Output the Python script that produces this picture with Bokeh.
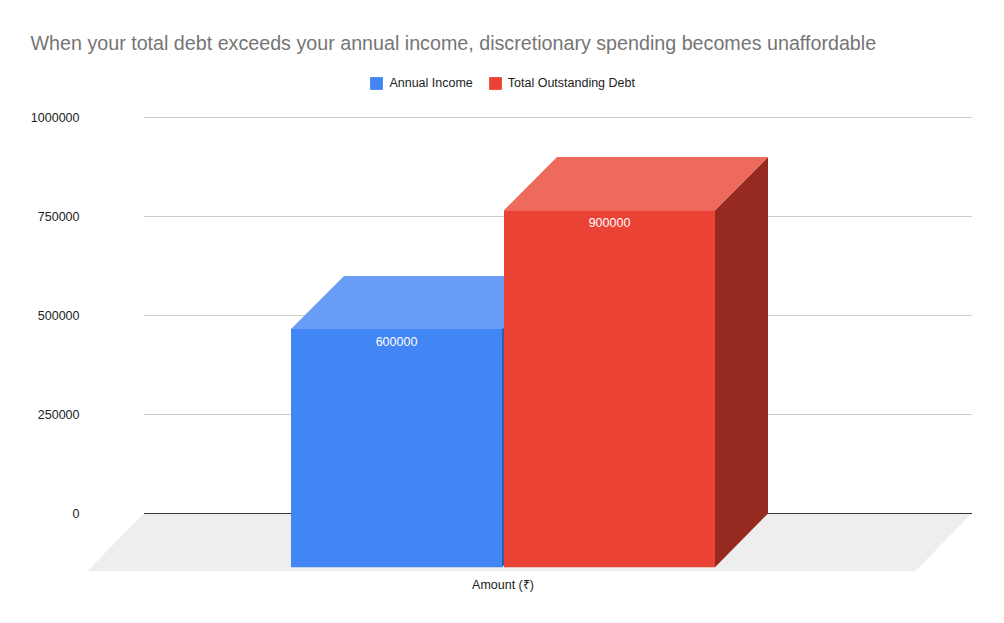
from bokeh.plotting import figure
from bokeh.models import Range1d, FixedTicker, Legend, LegendItem, ColumnDataSource
from bokeh.core.properties import value
from bokeh.embed import file_html
from bokeh.resources import INLINE

# ---- data ----
title_text = "When your total debt exceeds your annual income, discretionary spending becomes unaffordable"
categories = ["Amount (₹)"]
series_names = ["Annual Income", "Total Outstanding Debt"]
series_values = [600000, 900000]
y_ticks = [0, 250000, 500000, 750000, 1000000]

# ---- styling / layout ----
FONT = "Liberation Sans"
front_colors = ["#4285F4", "#EA4335"]
top_colors = ["#699DF6", "#EE6A5D"]
side_colors = ["#2E5DAB", "#962A20"]
BAR_W = 211
BAR_GAP = 2
BAR_X0 = 204
DX = 53
DY = 134000
BASE_DY = 135500
WALL_X0 = 57
WALL_W = 828
FLOOR_DY = 146000

p = figure(width=1000, height=620, output_backend="svg", toolbar_location=None,
           x_range=Range1d(0.5, 885.5), y_range=Range1d(-148990, 1143939),
           min_border_left=87, min_border_right=28, min_border_top=60, min_border_bottom=48,
           outline_line_color=None, background_fill_color=None, border_fill_color="white")
p.xgrid.visible = False
p.ygrid.visible = False

p.title.text = title_text
p.title.text_font = FONT
p.title.text_font_size = "19.7px"
p.title.text_font_style = "normal"
p.title.text_color = "#757575"
p.title.align = "left"
p.title.offset = -57
p.title.standoff = 13

# floor
p.patch([WALL_X0, WALL_X0 + WALL_W, WALL_X0 + WALL_W - 57, 0],
        [0, 0, -FLOOR_DY, -FLOOR_DY], fill_color="#EEEEEE", line_color=None)

# grid + baseline
p.segment([WALL_X0] * len(y_ticks), y_ticks, [WALL_X0 + WALL_W] * len(y_ticks), y_ticks,
          line_color=["#333333" if t == 0 else "#CCCCCC" for t in y_ticks], line_width=1)

# bars
front_renderers = []
label_x, label_y = [], []
for i, v in enumerate(series_values):
    x0 = BAR_X0 + i * (BAR_W + BAR_GAP)
    x1 = x0 + BAR_W
    yb = -BASE_DY
    yt = v - DY
    p.patch([x1, x1 + DX, x1 + DX, x1], [yb, 0, v, yt], fill_color=side_colors[i], line_color=None)
    p.patch([x0, x1, x1 + DX, x0 + DX], [yt, yt, v, v], fill_color=top_colors[i], line_color=None)
    r = p.patch([x0, x1, x1, x0], [yb, yb, yt, yt], fill_color=front_colors[i], line_color=None)
    front_renderers.append(r)
    label_x.append((x0 + x1) / 2)
    label_y.append(yt)

src = ColumnDataSource(dict(x=label_x, y=label_y, t=[str(v) for v in series_values]))
p.text("x", "y", text="t", source=src, text_color="white", text_font=value(FONT),
       text_font_size="12.5px", text_align="center", text_baseline="top", y_offset=8)

# axes
p.yaxis.ticker = FixedTicker(ticks=y_ticks)
p.yaxis.major_label_overrides = {t: str(t) for t in y_ticks}
p.yaxis.axis_line_color = None
p.yaxis.major_tick_line_color = None
p.yaxis.minor_tick_line_color = None
p.yaxis.major_tick_out = 0
p.yaxis.major_tick_in = 0
p.yaxis.major_label_standoff = 8
p.yaxis.major_label_text_font = FONT
p.yaxis.major_label_text_font_size = "12.5px"
p.yaxis.major_label_text_color = "#222222"

cat_x = 416
p.xaxis.ticker = FixedTicker(ticks=[cat_x])
p.xaxis.major_label_overrides = {cat_x: categories[0]}
p.xaxis.axis_line_color = None
p.xaxis.major_tick_line_color = None
p.xaxis.minor_tick_line_color = None
p.xaxis.major_tick_out = 0
p.xaxis.major_tick_in = 0
p.xaxis.major_label_standoff = 5
p.xaxis.major_label_text_font = FONT
p.xaxis.major_label_text_font_size = "12.5px"
p.xaxis.major_label_text_color = "#222222"

legend = Legend(items=[LegendItem(label=n, renderers=[r]) for n, r in zip(series_names, front_renderers)],
                orientation="horizontal", location=(281.4, 481),
                glyph_width=16, glyph_height=16, label_standoff=5, spacing=14,
                padding=0, margin=0, border_line_color=None, background_fill_alpha=0,
                label_text_font=FONT, label_text_font_size="12.5px", label_text_color="#222222",
                label_height=16)
p.add_layout(legend)

open("out.html", "w").write(file_html(p, INLINE))
